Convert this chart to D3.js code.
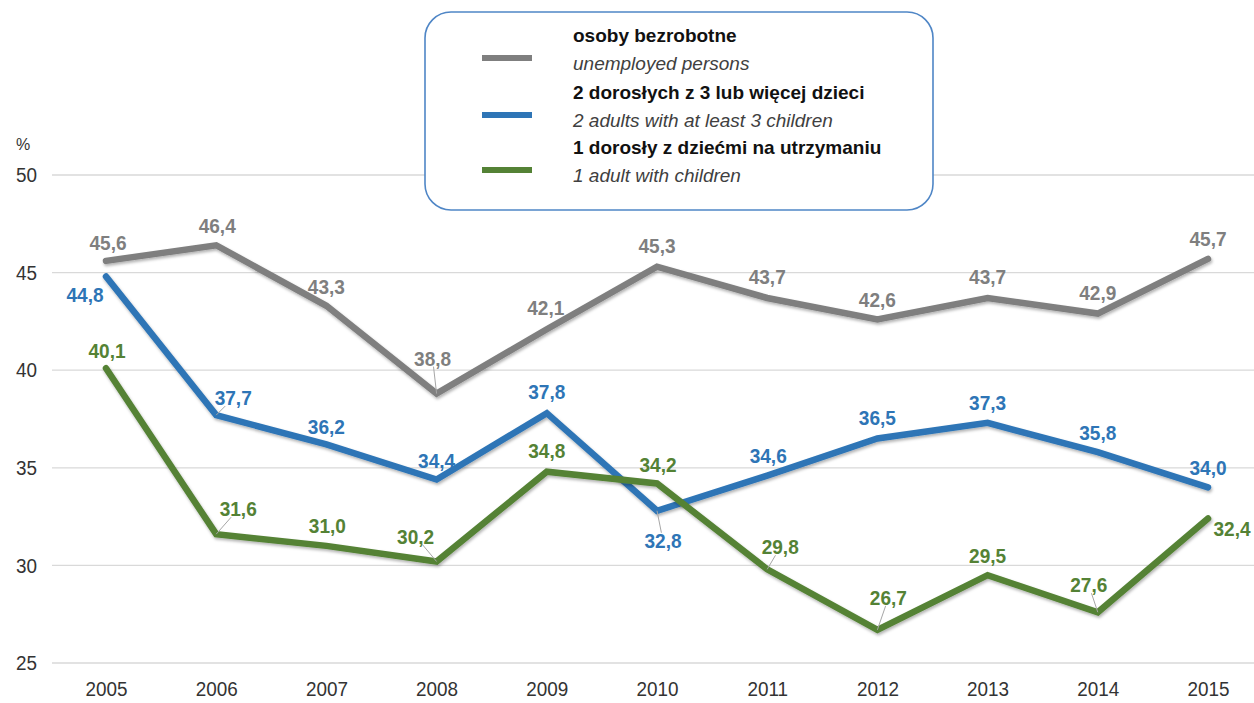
<!DOCTYPE html>
<html>
<head>
<meta charset="utf-8">
<script src="https://cdn.jsdelivr.net/npm/d3@7"></script>
<style>
  html, body { margin: 0; padding: 0; background: #fff; }
  svg { display: block; font-family: "Liberation Sans", Arial, sans-serif; }
</style>
</head>
<body>
<svg id="chart" width="1254" height="703"></svg>
<script>
// ---- data ----
const years = [2005, 2006, 2007, 2008, 2009, 2010, 2011, 2012, 2013, 2014, 2015];
const unemployed = [45.6, 46.4, 43.3, 38.8, 42.1, 45.3, 43.7, 42.6, 43.7, 42.9, 45.7];
const twoAdultsThreeKids = [44.8, 37.7, 36.2, 34.4, 37.8, 32.8, 34.6, 36.5, 37.3, 35.8, 34.0];
const oneAdultKids = [40.1, 31.6, 31.0, 30.2, 34.8, 34.2, 29.8, 26.7, 29.5, 27.6, 32.4];
const yTicks = [25, 30, 35, 40, 45, 50];
const namesPL = ["osoby bezrobotne", "2 dorosłych z 3 lub więcej dzieci", "1 dorosły z dziećmi na utrzymaniu"];
const namesEN = ["unemployed persons", "2 adults with at least 3 children", "1 adult with children"];
const seriesColors = ["#7f7f7f", "#2e75b6", "#548235"];

// label placement (offset of label centre from its point; third item = leader line)
const grayOffsets = [[2,-18],[1,-19],[0,-19],[-4,-35,1],[-1,-21],[0,-21],[0,-21],[0,-20],[0,-21],[0,-21],[0,-20]];
const blueOffsets = [[-21,18],[17,-17,1],[0,-18],[0,-19],[0,-21],[6,30,1],[1,-20],[0,-21],[0,-20],[0,-19],[0,-20]];
const greenOffsets = [[1,-17],[22,-25,1],[1,-20],[-21,-25,1],[0,-21],[1,-19],[13,-22,1],[11,-32,1],[0,-19],[-9,-27,1],[24,10]];

const series = [
  { values: unemployed, color: seriesColors[0], offsets: grayOffsets },
  { values: twoAdultsThreeKids, color: seriesColors[1], offsets: blueOffsets },
  { values: oneAdultKids, color: seriesColors[2], offsets: greenOffsets }
];

const svg = d3.select("#chart");
const x = d3.scalePoint().domain(years).range([106, 1208]);
const y = d3.scaleLinear().domain([25, 50]).range([663, 175]);

// shadow filter
const defs = svg.append("defs");
const f = defs.append("filter").attr("id", "shadow").attr("x", "-10%").attr("y", "-10%").attr("width", "120%").attr("height", "130%");
f.append("feDropShadow").attr("dx", 1).attr("dy", 2).attr("stdDeviation", 1.5)
  .attr("flood-color", "#000").attr("flood-opacity", 0.3);

// gridlines
svg.append("g").selectAll("line").data(yTicks).join("line")
  .attr("x1", 52).attr("x2", 1254)
  .attr("y1", d => y(d)).attr("y2", d => y(d))
  .attr("stroke", "#d9d9d9").attr("stroke-width", 1.3);

// y axis
const yAxis = svg.append("g").attr("transform", "translate(37,0)")
  .call(d3.axisLeft(y).tickValues(yTicks).tickSize(0).tickPadding(0));
yAxis.select(".domain").remove();
yAxis.selectAll("text").attr("font-size", 21).attr("fill", "#333")
  .attr("font-family", "Liberation Sans, Arial, sans-serif")
  .attr("transform", "scale(0.9,1)");

svg.append("text").attr("x", 23).attr("y", 144).attr("dy", "0.35em")
  .attr("text-anchor", "middle").attr("font-size", 16).attr("fill", "#333").text("%");

// x axis
const xAxis = svg.append("g").attr("transform", "translate(0,683)")
  .call(d3.axisBottom(x).tickSize(0).tickPadding(0).tickFormat(d3.format("d")));
xAxis.select(".domain").remove();
xAxis.selectAll("text").attr("font-size", 21).attr("fill", "#333").attr("dy", "0.62em")
  .attr("font-family", "Liberation Sans, Arial, sans-serif")
  .attr("transform", "scale(0.9,1)");

// lines
const line = d3.line().x((d, i) => x(years[i])).y(d => y(d));
svg.append("g").selectAll("path").data(series).join("path")
  .attr("d", s => line(s.values))
  .attr("fill", "none")
  .attr("stroke", s => s.color)
  .attr("stroke-width", 6.5)
  .attr("stroke-linejoin", "miter")
  .attr("stroke-linecap", "round")
  .attr("filter", "url(#shadow)");

// data labels
const fmt = v => v.toFixed(1).replace(".", ",");
const hw = 19, hh = 8;
series.forEach(s => {
  const g = svg.append("g");
  s.values.forEach((v, i) => {
    const px = x(years[i]), py = y(v);
    const [dx, dy, lead] = s.offsets[i];
    const cx = px + dx, cy = py + dy;
    if (lead) {
      const vx = px - cx, vy = py - cy;
      const sc = Math.min(vx ? hw / Math.abs(vx) : Infinity, vy ? hh / Math.abs(vy) : Infinity);
      g.append("line")
        .attr("x1", cx + vx * sc).attr("y1", cy + vy * sc)
        .attr("x2", px).attr("y2", py)
        .attr("stroke", "#a6a6a6").attr("stroke-width", 1);
    }
    g.append("text")
      .attr("transform", `translate(${cx},${cy}) scale(0.93,1)`)
      .attr("dy", "0.35em")
      .attr("text-anchor", "middle")
      .attr("font-size", 20.5).attr("font-weight", "bold")
      .attr("fill", s.color)
      .text(fmt(v));
  });
});

// legend
const lg = svg.append("g");
lg.append("rect").attr("x", 425).attr("y", 12).attr("width", 508).attr("height", 198)
  .attr("rx", 26).attr("ry", 26)
  .attr("fill", "#fff").attr("stroke", "#4f86c6").attr("stroke-width", 1.6);
const legendRowY = [35, 92, 147];
seriesColors.forEach((c, i) => {
  const yy = legendRowY[i];
  lg.append("line").attr("x1", 482).attr("x2", 532)
    .attr("y1", yy + 23).attr("y2", yy + 23)
    .attr("stroke", c).attr("stroke-width", 6);
  lg.append("text").attr("x", 573).attr("y", yy).attr("dy", "0.35em")
    .attr("font-size", 19).attr("font-weight", "bold").attr("fill", "#111")
    .text(namesPL[i]);
  lg.append("text").attr("x", 573).attr("y", yy + 28).attr("dy", "0.35em")
    .attr("font-size", 19).attr("font-style", "italic").attr("fill", "#404040")
    .text(namesEN[i]);
});
</script>
</body>
</html>
